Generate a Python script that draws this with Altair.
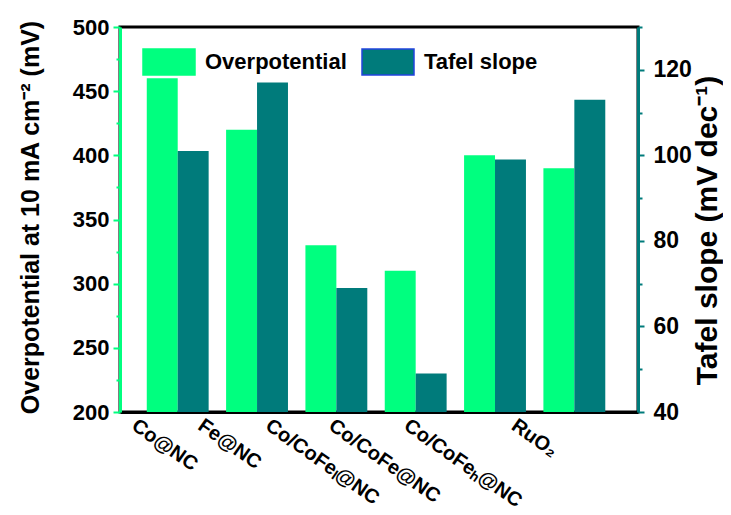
import altair as alt
import pandas as pd

categories = ["Co@NC", "Fe@NC", "Co/CoFeₗ@NC", "Co/CoFe@NC", "Co/CoFeₕ@NC", "RuO₂"]
overpotential = [460, 420, 330, 310, 400, 390]
tafel_slope = [101, 117, 69, 49, 99, 113]
series_names = ["Overpotential", "Tafel slope"]
left_ticks = [200, 225, 250, 275, 300, 325, 350, 375, 400, 425, 450, 475, 500]
right_ticks = [40, 50, 60, 70, 80, 90, 100, 110, 120, 130]
label_shift = [-38, -51, -63, -79, -83, -55]

LIGHT = "#00FF7F"
DARK = "#007B7B"
BORDER = "#2244DD"
FONT = "Liberation Sans"

rows = []
for c, o, t in zip(categories, overpotential, tafel_slope):
    rows.append({"cat": c, "series": series_names[0], "value": o})
    rows.append({"cat": c, "series": series_names[1], "value": t})
df = pd.DataFrame(rows)

offset_conditions = [
    {"test": f"datum.value == '{c}'", "value": s} for c, s in zip(categories, label_shift)
]

x_enc = alt.X(
    "cat:N",
    sort=categories,
    title=None,
    scale=alt.Scale(paddingInner=0.22, paddingOuter=0.375, align=0.45),
    axis=alt.Axis(
        labelAngle=35, labelAlign="left", labelBaseline="top",
        labelOffset={"condition": offset_conditions, "value": -60},
        labelPadding=3, labelFontSize=20, labelFont=FONT, labelFontWeight="bold",
        labelColor="black", ticks=False, domainColor="black", domainWidth=3,
        labelOverlap=False, labelLimit=300,
    ),
)
xoff = alt.XOffset("series:N", scale=alt.Scale(domain=series_names, paddingInner=0, paddingOuter=0))
color = alt.Color(
    "series:N",
    scale=alt.Scale(domain=series_names, range=[LIGHT, DARK]),
    legend=alt.Legend(
        orient="none", legendX=22, legendY=8, direction="horizontal", title=None,
        symbolType="M-1,-0.5H1V0.5H-1Z", symbolSize=2704, symbolStrokeWidth=1.5,
        symbolStrokeColor={"expr": f"datum.value == '{series_names[1]}' ? '{BORDER}' : '{LIGHT}'"},
        symbolOpacity=1, labelFontSize=22, labelFont=FONT, labelFontWeight="bold",
        labelColor="black", labelOffset=9, columnPadding=12,
    ),
)

base = alt.Chart(df)

left = base.transform_filter(alt.datum.series == series_names[0]).mark_bar(clip=True).encode(
    x=x_enc,
    xOffset=xoff,
    color=color,
    y=alt.Y(
        "value:Q",
        scale=alt.Scale(domain=[200, 500], zero=False, nice=False),
        axis=alt.Axis(
            orient="left", values=left_ticks, grid=False,
            labelExpr="datum.value % 50 == 0 ? datum.label : ''",
            tickSize={"condition": {"test": "datum.value % 50 != 0", "value": 4}, "value": 7},
            tickColor=LIGHT, tickWidth=2, domainColor=LIGHT, domainWidth=3,
            labelFontSize=22, labelFont=FONT, labelFontWeight="bold", labelColor="black",
            labelPadding=4,
            title="Overpotential at 10 mA cm⁻² (mV)", titleFontSize=25, titleFont=FONT,
            titleFontWeight="bold", titleColor="black", titleX=-77, titleY=190,
        ),
    ),
    y2=alt.datum(200),
)

right = base.transform_filter(alt.datum.series == series_names[1]).mark_bar(clip=True).encode(
    x=x_enc,
    xOffset=xoff,
    color=color,
    y=alt.Y(
        "value:Q",
        scale=alt.Scale(domain=[40, 130], zero=False, nice=False),
        axis=alt.Axis(
            orient="right", values=right_ticks, grid=False,
            labelExpr="datum.value % 20 == 0 ? datum.label : ''",
            tickSize={"condition": {"test": "datum.value % 20 != 0", "value": 4}, "value": 6},
            tickColor=DARK, tickWidth=2, domainColor=DARK, domainWidth=3,
            labelFontSize=23, labelFont=FONT, labelFontWeight="bold", labelColor="black",
            labelPadding=9,
            title="Tafel slope (mV dec⁻¹)", titleFontSize=30, titleFont=FONT,
            titleFontWeight="bold", titleColor="black", titleAngle=270,
            titleX=84, titleY=203,
        ),
    ),
    y2=alt.datum(40),
)

chart = (
    alt.layer(left, right)
    .resolve_scale(y="independent")
    .properties(
        width=518, height=385,
        padding={"left": 112, "top": 19, "right": 85, "bottom": 95},
        autosize=alt.AutoSizeParams(type="none"),
        background="white",
    )
    .configure_view(stroke="black", strokeWidth=3)
)

chart.save("out.html", embed_options={"renderer": "svg", "actions": False})
